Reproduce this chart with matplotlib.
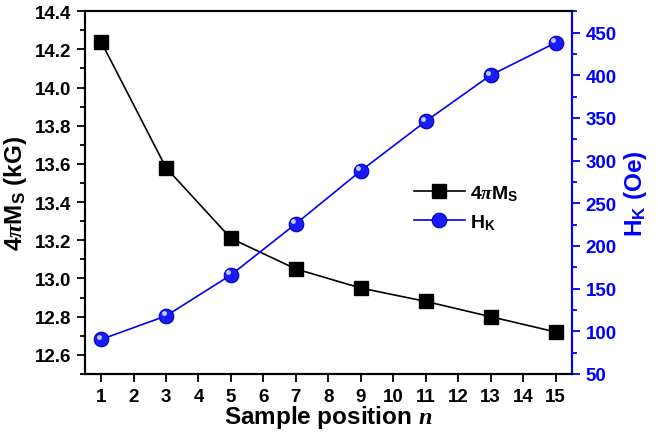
import matplotlib.pyplot as plt
from matplotlib.ticker import MultipleLocator
from matplotlib.transforms import offset_copy

plt.rcParams['font.family'] = ['Liberation Sans', 'DejaVu Sans']
plt.rcParams['font.weight'] = 'bold'
plt.rcParams['mathtext.fontset'] = 'custom'
plt.rcParams['mathtext.rm'] = 'Liberation Sans:bold'
plt.rcParams['mathtext.it'] = 'Liberation Serif:italic:bold'
plt.rcParams['mathtext.bf'] = 'Liberation Sans:bold'

# sample positions and measured values
position = [1, 3, 5, 7, 9, 11, 13, 15]
ms = [14.24, 13.58, 13.21, 13.05, 12.95, 12.88, 12.80, 12.72]   # 4piMs (kG)
hk = [90.5, 118, 166, 226, 288, 346, 400, 438]                    # Hk (Oe)

blue = '#0000ff'

fig = plt.figure(figsize=(6.58, 4.35), dpi=100)
ax = fig.add_axes([0.129, 0.138, 0.740, 0.834])
ax2 = ax.twinx()

l1, = ax.plot(position, ms, color='black', lw=1.2, marker='s', ms=9.5,
              mfc='black', mec='black', label=r'4$\pi$M$_\mathregular{S}$')
l2, = ax2.plot(position, hk, color=blue, lw=1.2, marker='o', ms=10.5,
               mfc='#1a1aff', mec='#0000b0', mew=0.8, label=r'H$_\mathregular{K}$')
# small highlight to give the round markers a shaded look
hl = offset_copy(ax2.transData, fig=fig, x=-1.8, y=1.8, units='points')
ax2.plot(position, hk, ls='none', marker='o', ms=3.5, mfc='#c8c8ff',
         mec='none', transform=hl)

ax.set_xlim(0.5, 15.5)
ax.set_ylim(12.5, 14.4)
ax2.set_ylim(50, 475)

ax.xaxis.set_major_locator(MultipleLocator(1))
ax.yaxis.set_major_locator(MultipleLocator(0.2))
ax.yaxis.set_minor_locator(MultipleLocator(0.1))
ax2.yaxis.set_major_locator(MultipleLocator(50))
ax2.yaxis.set_minor_locator(MultipleLocator(25))
ax.yaxis.set_major_formatter(plt.FormatStrFormatter('%.1f'))

ax.tick_params(axis='both', which='major', direction='out', length=6, width=1.3,
               labelsize=13.5, pad=4)
ax.tick_params(axis='y', which='minor', direction='out', length=3.5, width=1.3)
ax2.tick_params(axis='y', which='major', direction='out', length=6, width=1.3,
                labelsize=13.5, colors=blue, pad=4)
ax2.tick_params(axis='y', which='minor', direction='out', length=3.5, width=1.3, colors=blue)

for s in ax2.spines.values():
    s.set_linewidth(1.5)
ax2.spines['right'].set_color(blue)
for s in ax.spines.values():
    s.set_linewidth(1.5)

ax.set_xlabel(r'Sample position $n$', fontsize=17.5, fontweight='bold', labelpad=-1)
ax.set_ylabel(r'4$\pi$M$_\mathregular{S}$ (kG)', fontsize=17.5, fontweight='bold', labelpad=4)
ax2.set_ylabel(r'H$_\mathregular{K}$ (Oe)', fontsize=17.5, fontweight='bold', color=blue, labelpad=4)

ax.legend(handles=[l1, l2], loc='upper left', bbox_to_anchor=(0.64, 0.575),
          frameon=False, fontsize=14, handlelength=2.6, labelspacing=0.5,
          handletextpad=0.3)

fig.savefig('out.png', dpi=100)
